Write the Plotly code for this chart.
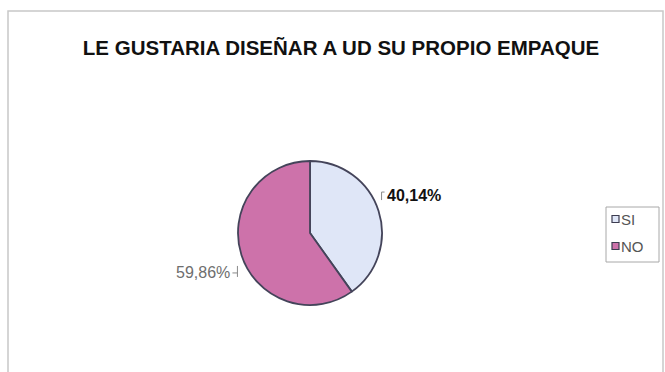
import math
import plotly.graph_objects as go

# Survey answers and their shares (%)
categories = ["SI", "NO"]
shares = [40.14, 59.86]
slice_colors = ["#dfe6f7", "#cd72aa"]
label_colors = ["#111111", "#6e6e6e"]
label_bold = [True, False]
chart_title = "LE GUSTARIA DISEÑAR A UD SU PROPIO EMPAQUE"

W, H = 665, 372
# pie placement in pixels
CX, CY, R = 310, 233, 72


def px(x):
    return x / W


def py(y):
    return 1 - y / H


fig = go.Figure(
    go.Pie(
        labels=categories,
        values=shares,
        sort=False,
        direction="clockwise",
        rotation=0,
        marker=dict(colors=slice_colors, line=dict(color="#44445a", width=1.8)),
        textinfo="none",
        hoverinfo="label+percent",
        showlegend=False,
        domain=dict(x=[px(CX - R), px(CX + R)], y=[py(CY + R), py(CY - R)]),
    )
)

# Percentage labels placed next to each slice's middle angle
total = sum(shares)
start = 0.0
annotations = []
shapes = []
for i, v in enumerate(shares):
    mid = (start + v / 2) / total * 2 * math.pi
    start += v
    ex = CX + R * math.sin(mid)
    ey = CY - R * math.cos(mid)
    pct = f"{v / total * 100:.2f}%".replace(".", ",")
    txt = f"<b>{pct}</b>" if label_bold[i] else pct
    if math.sin(mid) >= 0:
        lx, ly, anchor = ex + 6, ey - 16, "left"
        path = f"M {px(lx)},{py(ly - 3)} L {px(lx - 3)},{py(ly - 3)} L {px(lx - 3)},{py(ly + 5)}"
    else:
        lx, ly, anchor = ex - 9, ey + 18, "right"
        path = f"M {px(lx)},{py(ly)} L {px(lx + 5)},{py(ly)} M {px(lx + 5)},{py(ly - 7)} L {px(lx + 5)},{py(ly + 4)}"
    annotations.append(
        dict(
            x=px(lx),
            y=py(ly),
            xref="paper",
            yref="paper",
            text=txt,
            showarrow=False,
            xanchor=anchor,
            yanchor="middle",
            font=dict(family="Liberation Sans", size=16, color=label_colors[i]),
        )
    )
    shapes.append(
        dict(type="path", xref="paper", yref="paper", path=path,
             line=dict(color="#8a8a8a", width=1))
    )

# Legend drawn as a bordered box with colour swatches
LX0, LY0, LX1, LY1 = 606, 207, 659, 262
shapes.append(
    dict(type="rect", xref="paper", yref="paper",
         x0=px(LX0), x1=px(LX1), y0=py(LY1), y1=py(LY0),
         line=dict(color="#a8a8a8", width=1), fillcolor="white")
)
for i, name in enumerate(categories):
    yc = 219 + i * 27
    shapes.append(
        dict(type="rect", xref="paper", yref="paper",
             x0=px(612), x1=px(619), y0=py(yc + 3.5), y1=py(yc - 3.5),
             line=dict(color="#3c3c50", width=1.2), fillcolor=slice_colors[i])
    )
    annotations.append(
        dict(x=px(619), y=py(yc), xref="paper", yref="paper", text=name,
             showarrow=False, xanchor="left", yanchor="middle",
             font=dict(family="Liberation Sans", size=15, color="#555555"))
    )

# Chart frame
shapes.append(
    dict(type="rect", xref="paper", yref="paper",
         x0=px(8), x1=px(663), y0=-0.01, y1=py(11),
         line=dict(color="#c8c8c8", width=1.5), fillcolor="rgba(0,0,0,0)",
         layer="below")
)

fig.update_layout(
    width=W,
    height=H,
    margin=dict(l=0, r=0, t=0, b=0),
    paper_bgcolor="white",
    plot_bgcolor="white",
    font=dict(family="Liberation Sans", color="#222222"),
    title=dict(
        text="<b>" + chart_title + "</b>",
        x=px(341),
        xanchor="center",
        y=py(48),
        yanchor="middle",
        font=dict(family="Liberation Sans", size=20.5, color="#111111"),
    ),
    annotations=annotations,
    shapes=shapes,
)

fig.write_html("out.html")
